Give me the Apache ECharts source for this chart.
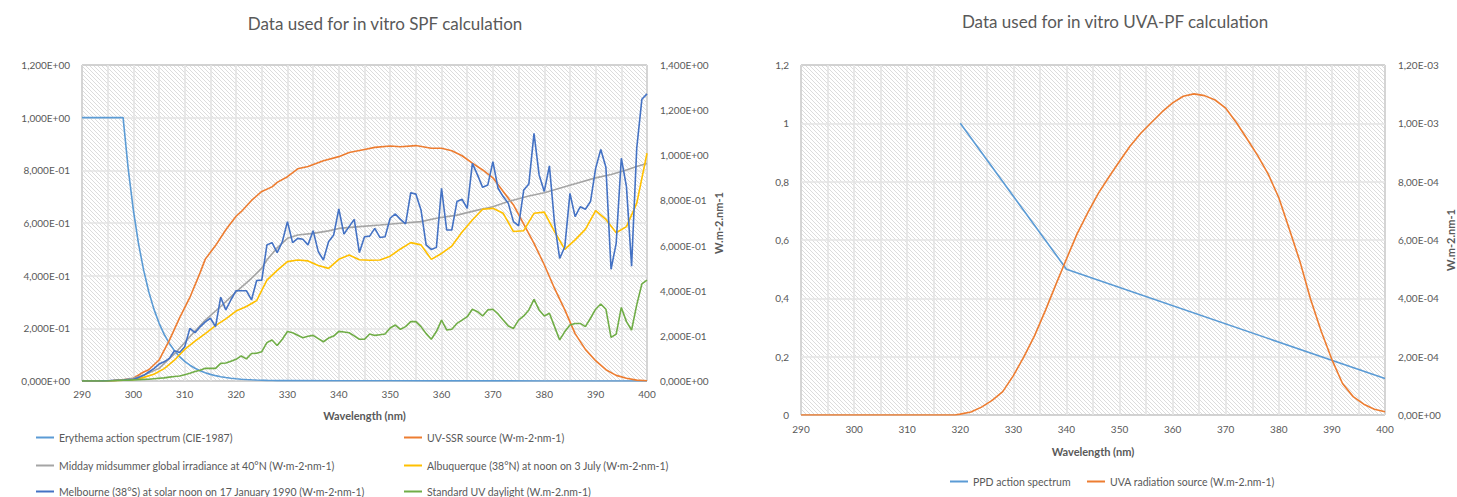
<!DOCTYPE html>
<html>
<head>
<meta charset="utf-8">
<script src="https://cdn.jsdelivr.net/npm/echarts@6/dist/echarts.min.js"></script>
<style>
html,body{margin:0;padding:0;background:#fff;}
#chart{width:1457px;height:497px;}
</style>
</head>
<body>
<div id="chart"></div>
<script>
// ---------- DATA ----------
const wavelengthTicks = [290, 300, 310, 320, 330, 340, 350, 360, 370, 380, 390, 400];
const WL = Array.from({length: 111}, (_, i) => 290 + i); // 290..400 nm, 1 nm step

const erythema = [[290,1],[291,1],[292,1],[293,1],[294,1],[295,1],[296,1],[297,1],[298,1],
  [299,0.805],[300,0.649],[301,0.522],[302,0.421],[303,0.339],[304,0.273],[305,0.220],[306,0.177],
  [307,0.143],[308,0.115],[309,0.0925],[310,0.0745],[311,0.060],[312,0.0483],[313,0.0389],[314,0.0313],
  [315,0.0252],[316,0.0203],[317,0.0164],[318,0.0132],[319,0.0106],[320,0.0086],[321,0.0069],[322,0.0056],
  [323,0.0045],[324,0.0036],[325,0.0029],[326,0.0023],[327,0.0019],[328,0.0015],[330,0.0014],[340,0.0010],
  [350,0.0007],[360,0.0005],[370,0.00035],[380,0.00025],[390,0.00018],[400,0.00013]];

const uvSSR = [[290,0],[294,0.0005],[296,0.002],[298,0.005],[300,0.012],[302,0.04],[303,0.05],[305,0.093],
  [307,0.18],[309,0.28],[311,0.37],[313,0.48],[314,0.54],[316,0.6],[318,0.67],[320,0.73],[321,0.75],
  [323,0.80],[325,0.84],[327,0.86],[328,0.88],[330,0.905],[332,0.94],[334,0.95],[337,0.976],[340,0.994],
  [342,1.012],[345,1.026],[347,1.035],[350,1.041],[352,1.038],[355,1.043],[358,1.031],[360,1.031],
  [362,1.02],[364,0.998],[366,0.965],[368,0.935],[370,0.9],[372,0.84],[374,0.78],[376,0.695],[378,0.61],
  [380,0.515],[382,0.41],[384,0.315],[386,0.21],[388,0.14],[390,0.09],[392,0.05],[394,0.025],[396,0.012],
  [398,0.004],[400,0.001]];

const midday40N = [[290,0],[295,0.001],[298,0.005],[300,0.012],[302,0.025],[305,0.056],[308,0.12],[311,0.196],
  [314,0.27],[317,0.33],[320,0.395],[323,0.455],[325,0.5],[326,0.536],[328,0.59],[330,0.632],[332,0.647],
  [335,0.654],[338,0.665],[340,0.676],[344,0.684],[348,0.691],[352,0.699],[356,0.706],[359,0.721],[363,0.735],
  [367,0.757],[370,0.772],[373,0.795],[377,0.82],[380,0.834],[383,0.854],[386,0.874],[390,0.9],[393,0.915],
  [396,0.935],[398,0.95],[400,0.964]];

const albuquerque = [[290,0],[296,0.001],[300,0.006],[302,0.016],[304,0.03],[306,0.055],[308,0.092],[310,0.14],
  [312,0.177],[314,0.21],[316,0.245],[318,0.275],[320,0.31],[322,0.33],[324,0.356],[326,0.447],[328,0.49],
  [330,0.529],[332,0.536],[334,0.532],[336,0.512],[338,0.499],[340,0.539],[342,0.558],[344,0.537],[346,0.535],
  [348,0.536],[350,0.553],[352,0.585],[354,0.613],[356,0.603],[358,0.539],[360,0.565],[362,0.598],[364,0.66],
  [366,0.713],[368,0.761],[370,0.765],[372,0.743],[374,0.662],[376,0.666],[378,0.743],[380,0.748],[382,0.662],
  [384,0.583],[386,0.625],[388,0.672],[390,0.755],[392,0.716],[394,0.657],[396,0.684],[398,0.787],[400,1.009]];

const melbourne = [
  0, 0, 0, 0, 0.0005, 0.001, 0.002, 0.003, 0.004, 0.006,
  0.008, 0.015, 0.025, 0.04, 0.055, 0.075, 0.085, 0.1, 0.134, 0.126,
  0.152, 0.233, 0.214, 0.24, 0.262, 0.278, 0.241, 0.371, 0.315, 0.36,
  0.40, 0.40, 0.40, 0.359, 0.445, 0.447, 0.603, 0.613, 0.569, 0.617,
  0.706, 0.613, 0.632, 0.628, 0.603, 0.666, 0.573, 0.536, 0.617, 0.647,
  0.762, 0.651, 0.684, 0.716, 0.569, 0.639, 0.642, 0.676, 0.636, 0.639,
  0.721, 0.740, 0.716, 0.696, 0.834, 0.828, 0.758, 0.603, 0.583, 0.592,
  0.854, 0.669, 0.669, 0.795, 0.805, 0.765, 0.964, 0.913, 0.858, 0.868,
  0.972, 0.854, 0.817, 0.787, 0.706, 0.687, 0.846, 0.873, 1.097, 0.913,
  0.840, 0.953, 0.699, 0.543, 0.595, 0.831, 0.728, 0.772, 0.761, 0.795,
  0.942, 1.026, 0.947, 0.495, 0.610, 0.987, 0.861, 0.509, 1.031, 1.248,
  1.272];

const standardDaylight = [
  0, 0, 0, 0, 0, 0, 0.001, 0.002, 0.003, 0.004,
  0.005, 0.006, 0.007, 0.008, 0.01, 0.012, 0.014, 0.017, 0.02, 0.022,
  0.028, 0.034, 0.042, 0.048, 0.056, 0.056, 0.056, 0.078, 0.08, 0.088,
  0.096, 0.111, 0.098, 0.122, 0.123, 0.13, 0.17, 0.182, 0.157, 0.185,
  0.219, 0.214, 0.203, 0.192, 0.198, 0.202, 0.188, 0.174, 0.19, 0.199,
  0.22, 0.217, 0.214, 0.2, 0.185, 0.185, 0.208, 0.202, 0.205, 0.208,
  0.235, 0.248, 0.229, 0.241, 0.263, 0.263, 0.241, 0.21, 0.185, 0.219,
  0.27, 0.226, 0.229, 0.255, 0.27, 0.285, 0.318, 0.307, 0.288, 0.315,
  0.318, 0.297, 0.27, 0.244, 0.233, 0.27, 0.288, 0.315, 0.362, 0.315,
  0.288, 0.3, 0.241, 0.182, 0.219, 0.248, 0.255, 0.255, 0.241, 0.278,
  0.318, 0.341, 0.318, 0.193, 0.208, 0.326, 0.263, 0.226, 0.337, 0.43,
  0.447];

const ppdAction = [[320,1],[340,0.5],[400,0.125]];

const uvaSource = [[290,0],[300,0],[310,0],[319,0],[320,0.000003],[322,0.00001],[324,0.000027],[326,0.00005],
  [328,0.00008],[330,0.000135],[332,0.0002],[334,0.000272],[336,0.000357],[338,0.000447],[340,0.000535],
  [342,0.000621],[344,0.000693],[346,0.00076],[348,0.000816],[350,0.00087],[352,0.000922],[354,0.000966],
  [356,0.001003],[358,0.001039],[360,0.00107],[362,0.001093],[364,0.001101],[366,0.001095],[368,0.00108],
  [370,0.001052],[372,0.001003],[374,0.000947],[376,0.00089],[378,0.000826],[380,0.000745],[382,0.000636],
  [384,0.000525],[386,0.000396],[388,0.000286],[390,0.00019],[392,0.000108],[394,0.000063],[396,0.000037],
  [398,0.00002],[400,0.000011]];

const names = {
  ery: 'Erythema action spectrum (CIE-1987)',
  ssr: 'UV-SSR source (W·m-2·nm-1)',
  mid: 'Midday midsummer global irradiance at 40°N (W·m-2·nm-1)',
  alb: 'Albuquerque (38°N) at noon on 3 July (W·m-2·nm-1)',
  mel: 'Melbourne (38°S) at solar noon on 17 January 1990 (W·m-2·nm-1)',
  std: 'Standard UV daylight (W.m-2.nm-1)',
  ppd: 'PPD action spectrum',
  uva: 'UVA radiation source (W.m-2.nm-1)'
};

// ---------- STYLE ----------
const FONT = 'Lato, "Open Sans", sans-serif';
const TXT = '#595959';
const GRIDLINE = '#e4e4e4';

function hatch() {
  const c = document.createElement('canvas');
  c.width = 4; c.height = 4;
  const g = c.getContext('2d');
  g.fillStyle = '#ffffff'; g.fillRect(0, 0, 4, 4);
  g.fillStyle = '#dcdcdc';
  for (let i = 0; i < 4; i++) g.fillRect(i, i, 1, 1);
  return c.toDataURL();
}
const hatchUrl = hatch();
const pattern = () => ({image: hatchUrl, repeat: 'repeat', imageWidth: 4, imageHeight: 4});

function sci(v, d) {
  if (Math.abs(v) < 1e-15) return (0).toFixed(d).replace('.', ',') + 'E+00';
  let e = Math.floor(Math.log10(Math.abs(v)) + 1e-9);
  let s = (v / Math.pow(10, e)).toFixed(d);
  if (parseFloat(s) >= 10) { e++; s = (v / Math.pow(10, e)).toFixed(d); }
  return s.replace('.', ',') + 'E' + (e < 0 ? '-' : '+') + String(Math.abs(e)).padStart(2, '0');
}

const zip = (xs, ys) => xs.map((x, i) => [x, ys[i]]);

const labelStyle = {color: TXT, fontSize: 10, fontFamily: FONT};
const nameStyle = {color: TXT, fontSize: 11, fontWeight: 'bold', fontFamily: FONT};

function xAxis(gridIndex, gap) {
  return {
    type: 'value', gridIndex, min: 290, max: 400, interval: 10,
    axisLine: {show: false}, axisTick: {show: false},
    axisLabel: Object.assign({margin: gap}, labelStyle),
    splitLine: {show: true, lineStyle: {color: GRIDLINE, width: 1.6}},
    minorTick: {show: false, splitNumber: 2},
    minorSplitLine: {show: true, lineStyle: {color: GRIDLINE, width: 1.6}},
    name: 'Wavelength (nm)', nameLocation: 'middle', nameGap: gridIndex === 0 ? 29 : 31,
    nameTextStyle: nameStyle
  };
}

function yAxis(gridIndex, pos, max, interval, fmt, split, name, nameGap) {
  const a = {
    type: 'value', gridIndex, position: pos, min: 0, max, interval,
    axisLine: {show: false}, axisTick: {show: false},
    axisLabel: Object.assign({margin: pos === 'left' ? 12 : 13, formatter: fmt}, labelStyle),
    splitLine: {show: split, lineStyle: {color: GRIDLINE, width: 1.6}}
  };
  if (name) {
    a.name = name; a.nameLocation = 'middle'; a.nameRotate = 90; a.nameGap = nameGap;
    a.nameTextStyle = nameStyle;
  }
  return a;
}

function line(name, data, color, xi, yi) {
  return {
    type: 'line', name, data, xAxisIndex: xi, yAxisIndex: yi,
    symbol: 'none', showSymbol: false, smooth: false,
    lineStyle: {color, width: 1.6}, itemStyle: {color},
    emphasis: {disabled: true}, animation: false, clip: true
  };
}

function legend(name, left, top) {
  return {
    data: [name], left, top, icon: 'rect', itemWidth: 18, itemHeight: 2,
    textStyle: {color: TXT, fontSize: 10.5, fontFamily: FONT}, selectedMode: false,
    padding: 0
  };
}

const chart = echarts.init(document.getElementById('chart'), null, {renderer: 'svg', width: 1457, height: 497});

chart.setOption({
  animation: false,
  backgroundColor: '#ffffff',
  textStyle: {fontFamily: FONT},
  title: [
    {text: 'Data used for in vitro SPF calculation', left: 380, top: 10, textAlign: 'center',
     textStyle: {color: TXT, fontSize: 17, fontWeight: 'normal', fontFamily: FONT}},
    {text: 'Data used for in vitro UVA-PF calculation', left: 1110, top: 8, textAlign: 'center',
     textStyle: {color: TXT, fontSize: 17, fontWeight: 'normal', fontFamily: FONT}}
  ],
  grid: [
    {left: 82, top: 65, width: 565, height: 316, show: true, backgroundColor: pattern(),
     borderColor: '#3a3a3a', borderWidth: 1, containLabel: false},
    {left: 801, top: 65, width: 587, height: 350, show: true, backgroundColor: pattern(),
     borderColor: '#3a3a3a', borderWidth: 1, containLabel: false}
  ],
  xAxis: [xAxis(0, 8), xAxis(1, 9)],
  yAxis: [
    yAxis(0, 'left', 1.2, 0.2, v => sci(v, 3), true),
    yAxis(0, 'right', 1.4, 0.2, v => sci(v, 3), false, 'W.m-2.nm-1', 63),
    yAxis(1, 'left', 1.2, 0.2, v => String(Math.round(v * 10) / 10).replace('.', ','), true),
    yAxis(1, 'right', 0.0012, 0.0002, v => sci(v, 2), false, 'W.m-2.nm-1', 60)
  ],
  legend: [
    legend(names.ery, 36, 432),
    legend(names.ssr, 404, 432),
    legend(names.mid, 36, 460),
    legend(names.alb, 404, 460),
    legend(names.mel, 36, 486),
    legend(names.std, 404, 486),
    legend(names.ppd, 950, 476),
    legend(names.uva, 1087, 476)
  ],
  series: [
    line(names.ery, erythema, '#5B9BD5', 0, 0),
    line(names.ssr, uvSSR, '#ED7D31', 0, 1),
    line(names.mid, midday40N, '#A5A5A5', 0, 1),
    line(names.alb, albuquerque, '#FFC000', 0, 1),
    line(names.mel, zip(WL, melbourne), '#4472C4', 0, 1),
    line(names.std, zip(WL, standardDaylight), '#70AD47', 0, 1),
    line(names.ppd, ppdAction, '#5B9BD5', 1, 2),
    line(names.uva, uvaSource, '#ED7D31', 1, 3)
  ]
});
</script>
</body>
</html>
